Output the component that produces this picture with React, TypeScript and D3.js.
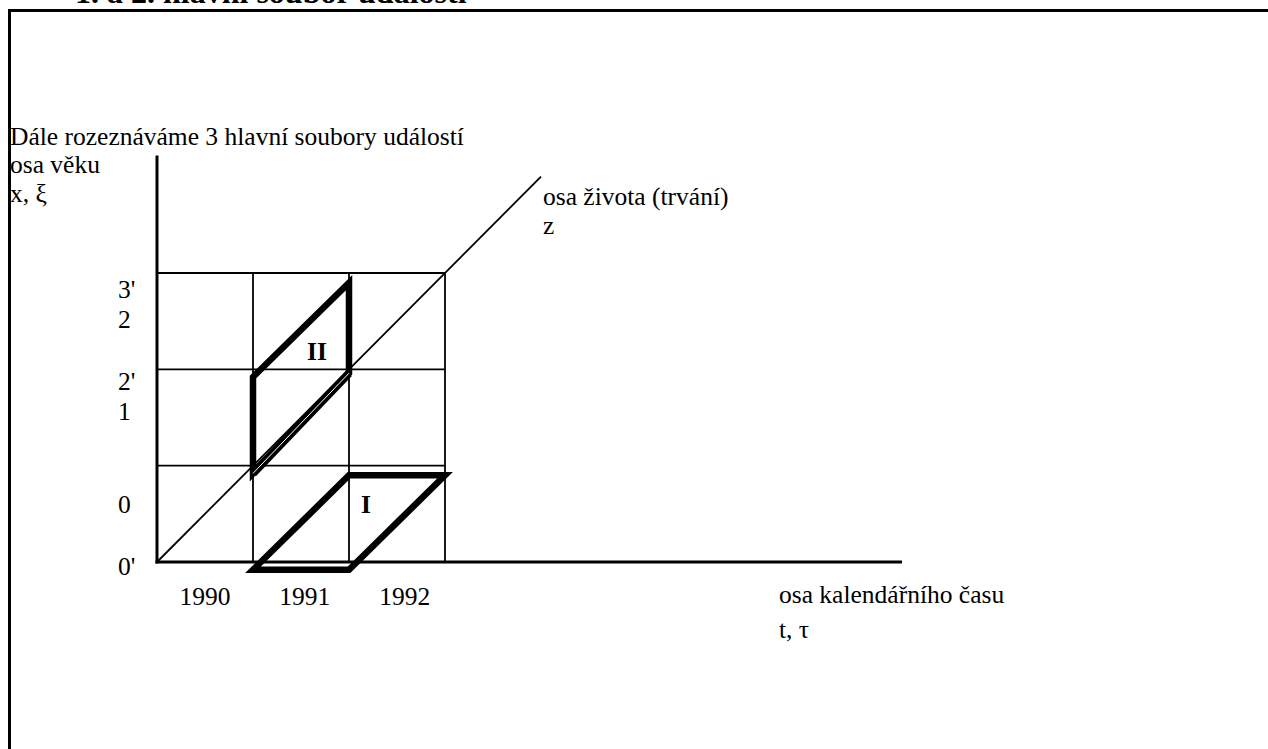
import React from 'react';
import * as d3 from 'd3';

// years on the calendar axis and ages on the age axis (grid lines)
const years = [1990, 1991, 1992, 1993];
const ages = [0, 1, 2, 3];

// labels under the calendar axis
const yearLabels = ['1990', '1991', '1992'];
const yearLabelAt = [1990.5, 1991.54, 1992.58];

// labels left of the age axis
const ageLabels = ["3'", '2', "2'", '1', '0', "0'"];
const ageLabelAt = [2.74, 2.43, 1.79, 1.47, 0.51, -0.135];

// set I and set II (year, age)
const setI: [number, number][] = [[1991, -0.08], [1992, 0.9], [1993, 0.9], [1992, -0.08]];
const setII: [number, number][] = [[1991, 0.92], [1991, 1.92], [1992, 2.9], [1992, 1.96]];
const setIIDouble: [number, number][] = [[1992, 1.96], [1991, 0.92]];

// life line (year, age)
const lifeLine: [number, number][] = [[1990, 0], [1994, 4]];
const ageAxisTop = 4.22;
const timeAxisEnd = 1997.76;

const font = 'Liberation Serif, Times New Roman, serif';

export default function App() {
  const W = 1268;
  const H = 749;

  const x = d3.scaleLinear().domain([1990, 1993]).range([157, 445]);
  const y = d3.scaleLinear().domain([0, 3]).range([562, 273]);

  const line = d3.line<[number, number]>()
    .x(d => x(d[0]))
    .y(d => y(d[1]));

  return (
    <svg width={W} height={H}
      style={{ position: 'absolute', left: 0, top: 0, background: '#fff', fontFamily: font, fontSize: 25.5 }}>
      {/* title, cut off at the top */}
      <text x={75} y={2.5} fontWeight="bold" fontSize={32}>1. a 2. hlavní soubor událostí</text>

      {/* frame */}
      <rect x={9.5} y={10.5} width={W + 20} height={H + 20} fill="none" stroke="#000" strokeWidth={3} />

      <text x={10} y={145}>Dále rozeznáváme 3 hlavní soubory událostí</text>
      <text x={10} y={173}>osa věku</text>
      <text x={10} y={202}>x, ξ</text>

      {/* grid */}
      {years.map(yr => (
        <line key={'v' + yr} x1={x(yr)} x2={x(yr)} y1={y(0)} y2={y(3)} stroke="#000" strokeWidth={1.8} />
      ))}
      {ages.map(a => (
        <line key={'h' + a} x1={x(1990)} x2={x(1993)} y1={y(a)} y2={y(a)} stroke="#000" strokeWidth={1.8} />
      ))}

      {/* life line */}
      <path d={line(lifeLine) || ''} fill="none" stroke="#000" strokeWidth={1.8} />

      {/* axes */}
      <line x1={x(1990)} x2={x(1990)} y1={y(0) + 1.5} y2={y(ageAxisTop)} stroke="#000" strokeWidth={3} />
      <line x1={x(1990) - 1.5} x2={x(timeAxisEnd)} y1={y(0)} y2={y(0)} stroke="#000" strokeWidth={3} />

      {/* set I */}
      <path d={(line(setI) || '') + 'Z'} fill="none" stroke="#000" strokeWidth={6.5} strokeLinejoin="miter" />
      {/* set II */}
      <path d={(line(setII) || '') + 'Z'} fill="none" stroke="#000" strokeWidth={6.5} strokeLinejoin="miter" />
      <path d={line(setIIDouble) || ''} fill="none" stroke="#000" strokeWidth={8} />
      <path d={line(setIIDouble) || ''} fill="none" stroke="#fff" strokeWidth={1} />

      <text x={307} y={360} fontWeight="bold">II</text>
      <text x={361} y={513} fontWeight="bold">I</text>

      {/* age labels */}
      {ageLabels.map((l, i) => (
        <text key={'a' + i} x={118} y={y(ageLabelAt[i])}>{l}</text>
      ))}

      {/* year labels */}
      {yearLabels.map((l, i) => (
        <text key={'y' + i} x={x(yearLabelAt[i])} y={605} textAnchor="middle">{l}</text>
      ))}

      <text x={543} y={205}>osa života (trvání)</text>
      <text x={543} y={234}>z</text>
      <text x={779} y={603}>osa kalendářního času</text>
      <text x={779} y={638}>t, τ</text>
    </svg>
  );
}
